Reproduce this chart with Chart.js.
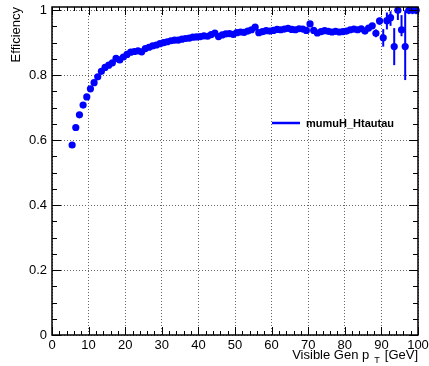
<!DOCTYPE html>
<html>
<head>
<meta charset="utf-8">
<script src="https://cdn.jsdelivr.net/npm/chart.js@4"></script>
<style>
  html, body { margin: 0; background: #fff; }
  canvas { display: block; }
</style>
</head>
<body>
<canvas id="eff" width="429" height="366"></canvas>
<script>
// ---- data ----
const ptBins = [5.5, 6.5, 7.5, 8.5, 9.5, 10.5, 11.5, 12.5, 13.5, 14.5,
  15.5, 16.5, 17.5, 18.5, 19.5, 20.5, 21.5, 22.5, 23.5, 24.5,
  25.5, 26.5, 27.5, 28.5, 29.5, 30.5, 31.5, 32.5, 33.5, 34.5,
  35.5, 36.5, 37.5, 38.5, 39.5, 40.5, 41.5, 42.5, 43.5, 44.5,
  45.5, 46.5, 47.5, 48.5, 49.5, 50.5, 51.5, 52.5, 53.5, 54.5,
  55.5, 56.5, 57.5, 58.5, 59.5, 60.5, 61.5, 62.5, 63.5, 64.5,
  65.5, 66.5, 67.5, 68.5, 69.5, 70.5, 71.5, 72.5, 73.5, 74.5,
  75.5, 76.5, 77.5, 78.5, 79.5, 80.5, 81.5, 82.5, 83.5, 84.5,
  85.5, 86.5, 87.5, 88.5, 89.5, 90.5, 91.5, 92.5, 93.5, 94.5,
  95.5, 96.5, 97.5, 98.5, 99.5];
const effVals = [0.585, 0.639, 0.678, 0.708, 0.733, 0.758, 0.777, 0.795, 0.812, 0.824,
  0.831, 0.838, 0.852, 0.847, 0.856, 0.864, 0.871, 0.873, 0.875, 0.872,
  0.882, 0.886, 0.890, 0.893, 0.897, 0.900, 0.903, 0.906, 0.908, 0.908,
  0.911, 0.913, 0.914, 0.917, 0.918, 0.919, 0.921, 0.920, 0.925, 0.930,
  0.919, 0.924, 0.927, 0.928, 0.926, 0.931, 0.933, 0.932, 0.936, 0.940,
  0.948, 0.931, 0.934, 0.937, 0.936, 0.938, 0.941, 0.940, 0.942, 0.944,
  0.941, 0.940, 0.943, 0.942, 0.938, 0.958, 0.938, 0.930, 0.934, 0.937,
  0.935, 0.933, 0.935, 0.933, 0.934, 0.936, 0.940, 0.942, 0.940, 0.943,
  0.936, 0.945, 0.952, 0.929, 0.967, 0.915, 0.968, 0.977, 0.888, 1.000,
  0.940, 0.888, 1.000, 1.000, 1.000];

// visible error bars (tail of the distribution)
const errBins = [86.5, 87.5, 88.5, 89.5, 90.5, 91.5, 92.5, 93.5, 94.5, 95.5, 96.5, 97.5, 98.5, 99.5];
const errDown = [0.008, 0.009, 0.012, 0.012, 0.027, 0.027, 0.025, 0.057, 0.030, 0.020, 0.103, 0.012, 0.012, 0.012];
const errUp   = [0.008, 0.009, 0.012, 0.010, 0.027, 0.025, 0.020, 0.057, 0.000, 0.045, 0.112, 0.000, 0.000, 0.000];

const xTickVals = [0, 10, 20, 30, 40, 50, 60, 70, 80, 90, 100];
const yTickVals = [0, 0.2, 0.4, 0.6, 0.8, 1];
const legendLabel = 'mumuH_Htautau';
const xTitle = ['Visible Gen p', 'T', '[GeV]'];
const yTitle = 'Efficiency';

const BLUE = '#0000ff';
const FONT = '"Liberation Sans", Arial, Helvetica, sans-serif';

// ROOT-style frame, inward ticks, error bars, titles and legend
const rootDeco = {
  id: 'rootDeco',
  afterDatasetsDraw(chart) {
    const { ctx, chartArea: a, scales: { x, y } } = chart;
    ctx.save();

    // error bars
    ctx.strokeStyle = BLUE;
    ctx.lineWidth = 2;
    errBins.forEach((b, i) => {
      const v = effVals[ptBins.indexOf(b)];
      const px = x.getPixelForValue(b);
      ctx.beginPath();
      ctx.moveTo(px, Math.max(a.top, y.getPixelForValue(v + errUp[i])));
      ctx.lineTo(px, y.getPixelForValue(v - errDown[i]));
      ctx.stroke();
    });

    // ticks
    ctx.strokeStyle = '#000';
    ctx.lineWidth = 1;
    ctx.beginPath();
    for (let v = 0; v <= 100; v += 2) {
      const px = Math.round(x.getPixelForValue(v)) + 0.5;
      const len = v % 10 === 0 ? 8 : 4;
      ctx.moveTo(px, a.bottom); ctx.lineTo(px, a.bottom - len);
      ctx.moveTo(px, a.top); ctx.lineTo(px, a.top + len);
    }
    for (let k = 0; k <= 20; k++) {
      const py = Math.round(y.getPixelForValue(k * 0.05)) + 0.5;
      const len = k % 4 === 0 ? 9 : 5;
      ctx.moveTo(a.left, py); ctx.lineTo(a.left + len, py);
      ctx.moveTo(a.right, py); ctx.lineTo(a.right - len, py);
    }
    ctx.stroke();

    // frame
    ctx.lineWidth = 1.5;
    ctx.strokeRect(a.left, a.top, a.right - a.left, a.bottom - a.top);

    // y title
    ctx.fillStyle = '#000';
    ctx.font = '13px ' + FONT;
    ctx.save();
    ctx.translate(16, a.top);
    ctx.rotate(-Math.PI / 2);
    ctx.textAlign = 'right';
    ctx.textBaseline = 'middle';
    ctx.fillText(yTitle, 0, 0);
    ctx.restore();

    // x title with subscript
    const base = 359;
    ctx.textBaseline = 'alphabetic';
    ctx.textAlign = 'left';
    ctx.font = '13px ' + FONT;
    const w2 = ctx.measureText(xTitle[2]).width;
    const w0 = ctx.measureText(xTitle[0]).width;
    ctx.font = '9px ' + FONT;
    const w1 = ctx.measureText(xTitle[1]).width;
    let cx = a.right - w2;
    ctx.font = '13px ' + FONT;
    ctx.fillText(xTitle[2], cx, base);
    cx -= 5 + w1;
    ctx.font = '9px ' + FONT;
    ctx.fillText(xTitle[1], cx, base + 4);
    cx -= 5 + w0;
    ctx.font = '13px ' + FONT;
    ctx.fillText(xTitle[0], cx, base);

    // legend
    const ly = 123;
    ctx.strokeStyle = BLUE;
    ctx.lineWidth = 2.5;
    ctx.beginPath();
    ctx.moveTo(272, ly); ctx.lineTo(300, ly);
    ctx.stroke();
    ctx.font = 'bold 11px ' + FONT;
    ctx.textBaseline = 'middle';
    ctx.fillText(legendLabel, 306, ly + 1);

    ctx.restore();
  }
};

const gridOpts = { color: '#666', drawTicks: false, lineWidth: 1 };

new Chart(document.getElementById('eff'), {
  type: 'scatter',
  data: {
    datasets: [{
      label: legendLabel,
      data: ptBins.map((b, i) => ({ x: b, y: effVals[i] })),
      pointRadius: 3.6,
      pointBackgroundColor: BLUE,
      pointBorderWidth: 0,
      pointHoverRadius: 3.6,
      clip: false,
    }],
  },
  options: {
    responsive: false,
    animation: false,
    events: [],
    layout: { padding: { top: 7, right: 11, left: 0, bottom: 0 } },
    plugins: { legend: { display: false }, tooltip: { enabled: false } },
    scales: {
      x: {
        type: 'linear', min: 0, max: 100,
        afterBuildTicks: s => { s.ticks = xTickVals.map(v => ({ value: v })); },
        afterFit: s => { s.height = 31; s.paddingLeft = 0; s.paddingRight = 0; },
        border: { display: false, dash: [1, 2] },
        grid: gridOpts,
        ticks: { color: '#000', font: { family: FONT, size: 13 }, padding: 3, maxRotation: 0 },
      },
      y: {
        type: 'linear', min: 0, max: 1.01,
        afterBuildTicks: s => { s.ticks = yTickVals.map(v => ({ value: v })); },
        afterFit: s => { s.width = 52; s.paddingTop = 0; s.paddingBottom = 0; },
        border: { display: false, dash: [1, 2] },
        grid: gridOpts,
        ticks: { color: '#000', font: { family: FONT, size: 13 }, padding: 5,
                 callback: v => String(Math.round(v * 10) / 10) },
      },
    },
  },
  plugins: [rootDeco],
});
</script>
</body>
</html>
